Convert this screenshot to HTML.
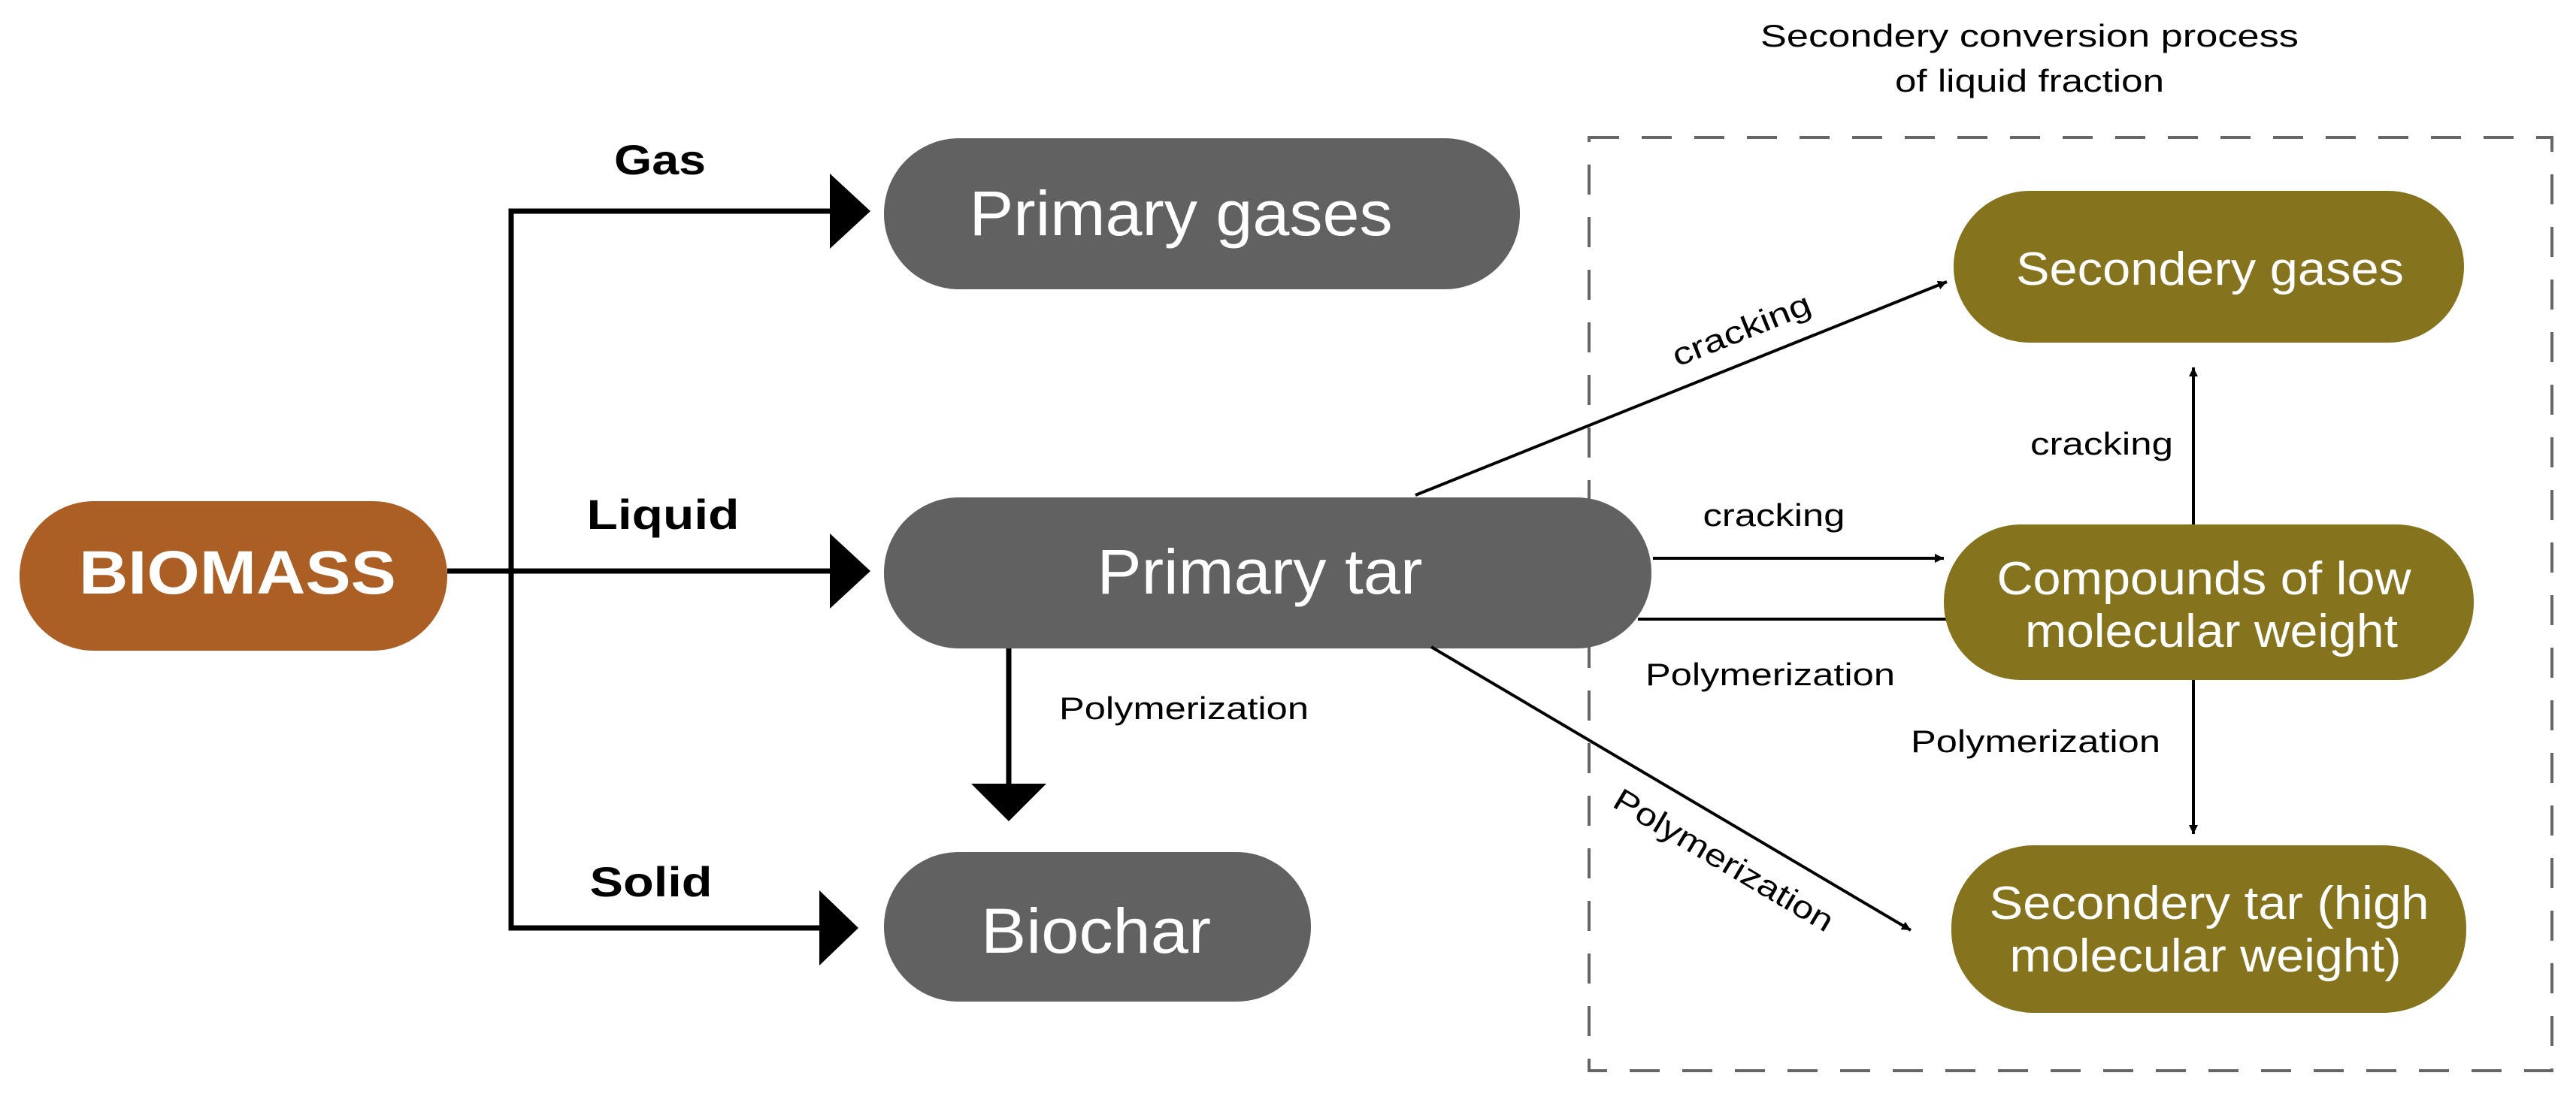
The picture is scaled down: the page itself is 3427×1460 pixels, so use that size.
<!DOCTYPE html>
<html><head><meta charset="utf-8"><style>html,body{margin:0;padding:0;background:#fff}svg{display:block}</style></head>
<body>
<svg width="3427" height="1460" viewBox="0 0 3427 1460" xmlns="http://www.w3.org/2000/svg" font-family="Liberation Sans, Arial, sans-serif">
<defs>
<marker id="a" markerWidth="12" markerHeight="12" refX="10" refY="5" orient="auto" markerUnits="userSpaceOnUse" viewBox="0 0 10 10"><path d="M0,0 L10,5 L0,10 z" fill="#000"/></marker>
</defs>
<!-- dashed box -->
<rect x="2114" y="183" width="1281" height="1242" fill="none" stroke="#666" stroke-width="4" stroke-dasharray="40,30"/>
<!-- title -->
<text x="2700" y="62" font-size="42" text-anchor="middle" textLength="716" lengthAdjust="spacingAndGlyphs">Secondery conversion process</text>
<text x="2700" y="122" font-size="42" text-anchor="middle" textLength="358" lengthAdjust="spacingAndGlyphs">of liquid fraction</text>

<!-- left connectors -->
<g stroke="#000" stroke-width="7" fill="none">
<line x1="595" y1="760" x2="1110" y2="760"/>
<polyline points="1110,281 680,281 680,1235 1100,1235"/>
<line x1="1342" y1="863" x2="1342" y2="1045"/>
</g>
<g fill="#000">
<polygon points="1104,231 1158,281 1104,331"/>
<polygon points="1104,710 1158,760 1104,810"/>
<polygon points="1090,1185 1142,1235 1090,1285"/>
<polygon points="1292,1043 1392,1043 1342,1093"/>
</g>
<text x="878" y="232" font-size="56" font-weight="bold" text-anchor="middle" textLength="122" lengthAdjust="spacingAndGlyphs">Gas</text>
<text x="882" y="704" font-size="56" font-weight="bold" text-anchor="middle" textLength="203" lengthAdjust="spacingAndGlyphs">Liquid</text>
<text x="866" y="1193" font-size="56" font-weight="bold" text-anchor="middle" textLength="163" lengthAdjust="spacingAndGlyphs">Solid</text>
<text x="1575" y="957" font-size="42" text-anchor="middle" textLength="332" lengthAdjust="spacingAndGlyphs">Polymerization</text>

<!-- nodes left -->
<rect x="26" y="667" width="569" height="199" rx="99" fill="#AB5F24"/>
<text x="316" y="790" font-size="82" font-weight="bold" fill="#fff" text-anchor="middle" textLength="422" lengthAdjust="spacingAndGlyphs">BIOMASS</text>
<rect x="1176" y="184" width="846" height="201" rx="100" fill="#616161"/>
<text x="1571" y="313" font-size="84" fill="#fff" text-anchor="middle" textLength="563" lengthAdjust="spacingAndGlyphs">Primary gases</text>
<rect x="1176" y="662" width="1021" height="201" rx="100" fill="#616161"/>
<text x="1676" y="790" font-size="84" fill="#fff" text-anchor="middle" textLength="433" lengthAdjust="spacingAndGlyphs">Primary tar</text>
<rect x="1176" y="1134" width="568" height="199" rx="99" fill="#616161"/>
<text x="1458" y="1268" font-size="84" fill="#fff" text-anchor="middle" textLength="306" lengthAdjust="spacingAndGlyphs">Biochar</text>

<!-- right connectors -->
<g stroke="#000" stroke-width="4" fill="none">
<line x1="1883" y1="659" x2="2590" y2="375" marker-end="url(#a)"/>
<line x1="2199" y1="743" x2="2586" y2="743" marker-end="url(#a)"/>
<line x1="2179" y1="824" x2="2590" y2="824"/>
<line x1="2918" y1="698" x2="2918" y2="489" marker-end="url(#a)"/>
<line x1="2918" y1="905" x2="2918" y2="1110" marker-end="url(#a)"/>
<line x1="1904" y1="861" x2="2542" y2="1238" marker-end="url(#a)"/>
</g>
<text transform="translate(2322,452) rotate(-21.9)" font-size="42" text-anchor="middle" textLength="195" lengthAdjust="spacingAndGlyphs">cracking</text>
<text x="2360" y="700" font-size="42" text-anchor="middle" textLength="189" lengthAdjust="spacingAndGlyphs">cracking</text>
<text x="2355" y="912" font-size="42" text-anchor="middle" textLength="332" lengthAdjust="spacingAndGlyphs">Polymerization</text>
<text x="2796" y="605" font-size="42" text-anchor="middle" textLength="190" lengthAdjust="spacingAndGlyphs">cracking</text>
<text x="2708" y="1001" font-size="42" text-anchor="middle" textLength="332" lengthAdjust="spacingAndGlyphs">Polymerization</text>
<text transform="translate(2286,1157) rotate(30.6)" font-size="42" text-anchor="middle" textLength="332" lengthAdjust="spacingAndGlyphs">Polymerization</text>

<!-- right nodes -->
<rect x="2599" y="254" width="679" height="202" rx="101" fill="#85731E"/>
<text x="2940" y="379" font-size="62" fill="#fff" text-anchor="middle" textLength="516" lengthAdjust="spacingAndGlyphs">Secondery gases</text>
<rect x="2586" y="698" width="705" height="207" rx="103" fill="#85731E"/>
<text x="2932" y="791" font-size="62" fill="#fff" text-anchor="middle" textLength="551" lengthAdjust="spacingAndGlyphs">Compounds of low</text>
<text x="2942" y="861" font-size="62" fill="#fff" text-anchor="middle" textLength="496" lengthAdjust="spacingAndGlyphs">molecular weight</text>
<rect x="2596" y="1125" width="685" height="223" rx="110" fill="#85731E"/>
<text x="2939" y="1223" font-size="62" fill="#fff" text-anchor="middle" textLength="585" lengthAdjust="spacingAndGlyphs">Secondery tar (high</text>
<text x="2934" y="1293" font-size="62" fill="#fff" text-anchor="middle" textLength="521" lengthAdjust="spacingAndGlyphs">molecular weight)</text>
</svg>
</body></html>
